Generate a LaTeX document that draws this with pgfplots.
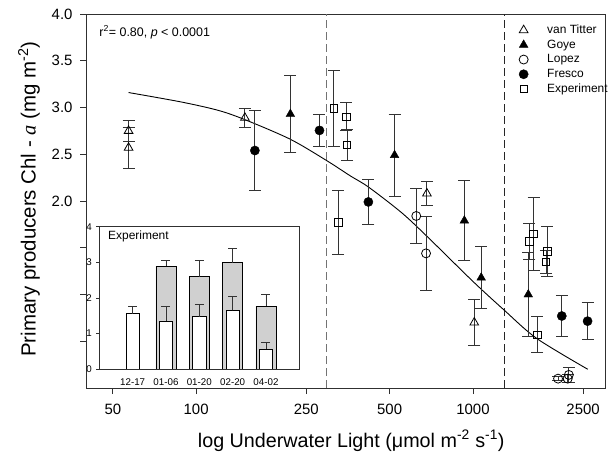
\documentclass[border=0pt]{standalone}
\usepackage{pgfplots}
\pgfplotsset{compat=1.18}
\usepackage{fontspec}
\setmainfont{Liberation Sans}
\newfontfamily\timesfont{Liberation Serif}
\definecolor{BarGray}{HTML}{D0D0D0}
\definecolor{Frame}{HTML}{303030}
\definecolor{ErrC}{HTML}{333333}

\begin{document}
\begin{tikzpicture}
% ---- main scatter ----
\begin{axis}[
  scale only axis, width=519bp, height=374bp,
  xmode=log, xmin=40, xmax=3000, ymin=0, ymax=4,
  xtick={50,100,250,500,1000,2500},
  xticklabels={50,100,250,500,1000,2500},
  ytick={0.5,1,1.5,2,2.5,3,3.5,4},
  yticklabels={,,,2.0,2.5,3.0,3.5,4.0},
  minor xtick={}, minor ytick={},
  tick pos=left, tick align=outside, major tick length=6bp,
  tick style={draw=Frame,line width=.8pt},
  axis line style={draw=Frame,line width=.9pt},
  /pgf/number format/assume math mode=true,
  tick label style={font=\fontsize{15}{18}\selectfont},
  xticklabel style={yshift=-7bp},
  yticklabel style={xshift=-4bp},
  xlabel={log Underwater Light (μmol m\textsuperscript{-2} s\textsuperscript{-1})},
  xlabel style={font=\fontsize{19.8}{22}\selectfont, at={(axis description cs:0.511,0)}, anchor=base, yshift=-59bp},
  ylabel={Primary producers Chl - {\timesfont\itshape a} (mg m\textsuperscript{-2})},
  ylabel style={font=\fontsize{20.5}{23}\selectfont, at={(axis description cs:-0.097,0.505)}, anchor=base},
  legend style={draw=none, fill=none, at={(rel axis cs:0.834,0.977)}, anchor=north west,
    font=\fontsize{12}{14}\selectfont, inner sep=0pt,
    nodes={text height=9bp, text depth=2.5bp, inner ysep=1.6bp},
    /tikz/every odd column/.append style={column sep=17bp}},
  legend cell align=left,
  error bars/error bar style={draw=ErrC,line width=.9pt},
  error bars/error mark options={draw=ErrC,line width=.9pt,mark size=6bp,rotate=90},
]
% dashed limits
\addplot[forget plot, draw=black!55, dash pattern=on 8bp off 4bp, line width=1pt] coordinates {(295,0) (295,4)};
\addplot[forget plot, draw=black!85, dash pattern=on 8bp off 4bp, line width=1pt] coordinates {(1300,0) (1300,4)};
% fitted curve
\addplot[forget plot, black, line width=.9pt, smooth] coordinates {
 (57,3.16) (88,3.06) (120,2.97) (150,2.87) (219,2.66) (297,2.43) (360,2.27)
 (419,2.15) (550,1.88) (678,1.63) (1000,1.14) (1300,0.83) (1700,0.53) (2600,0.20)};

\addplot[only marks, mark=triangle, mark size=5bp, mark options={fill=white,draw=black,line width=.8pt},
  error bars/.cd, y dir=both, y explicit] coordinates {
 (57,2.57) +- (0,0.22) (57,2.75) +- (0,0.11) (150,2.89) +- (0,0.105)
 (682,2.08) +- (0,0.125) (1011,0.70) +- (0,0.25)};
\addlegendentry{van Titter}
\addplot[only marks, mark=triangle*, mark size=5bp, mark options={fill=black,draw=black},
  error bars/.cd, y dir=both, y explicit] coordinates {
 (219,2.93) +- (0,0.41) (521,2.49) +- (0,0.44) (931,1.79) +- (0,0.43)
 (1071,1.18) +- (0,0.33) (1585,1.00) +- (0,0.45)};
\addlegendentry{Goye}
\addplot[only marks, mark=o, mark size=4.5bp, mark options={fill=white,draw=black,line width=.8pt},
  error bars/.cd, y dir=both, y explicit] coordinates {
 (624,1.84) +- (0,0.29) (677,1.44) +- (0,0.40) (2030,0.10) +- (0,0.02)
 (2200,0.10) +- (0,0.04) (2220,0.14) +- (0,0.08)};
\addlegendentry{Lopez}
\addplot[only marks, mark=*, mark size=4.6bp, mark options={fill=black,draw=black},
  error bars/.cd, y dir=both, y explicit] coordinates {
 (163,2.54) +- (0,0.43) (279,2.755) +- (0,0.17) (419,1.99) +- (0,0.24)
 (2094,0.77) +- (0,0.22) (2595,0.715) +- (0,0.20)};
\addlegendentry{Fresco}
\addplot[only marks, mark=square, mark size=3.7bp, mark options={fill=white,draw=black,line width=.8pt},
  error bars/.cd, y dir=both, y explicit] coordinates {
 (314,2.99) +- (0,0.41) (349,2.90) +- (0,0.15) (351,2.60) +- (0,0.17) (326,1.77) +- (0,0.34)
 (1600,1.57) +- (0,0.19) (1656,1.65) +- (0,0.39) (1859,1.46) +- (0,0.27)
 (1836,1.35) +- (0,0.12) (1707,0.57) +- (0,0.19)};
\addlegendentry{Experiment}

\node[anchor=west, font=\fontsize{12.5}{14}\selectfont] at (rel axis cs:0.019,0.951)
  {r\textsuperscript{2}= 0.80, \textit{p} < 0.0001};
\end{axis}

% ---- inset ----
\begin{axis}[
  at={(13.3bp,19bp)}, anchor=south west,
  scale only axis, width=200bp, height=142.3bp,
  xmin=-1, xmax=5, ymin=0, ymax=4,
  axis background/.style={fill=white},
  xtick={0,1,2,3,4}, xticklabels={12-17,01-06,01-20,02-20,04-02},
  ytick={0,1,2,3,4}, yticklabels={0,1,2,3,4},
  xtick style={draw=none},
  ytick pos=left, tick align=outside, major tick length=3bp,
  ytick style={draw=Frame,line width=.6pt},
  axis line style={draw=Frame,line width=.8pt},
  tick label style={font=\fontsize{9.8}{11}\selectfont},
  xticklabel style={yshift=-3bp},
  yticklabel style={xshift=-1bp},
  error bars/error bar style={draw=ErrC,line width=.8pt},
  error bars/error mark options={draw=ErrC,line width=.8pt,mark size=4.5bp,rotate=90},
]
\addplot[ybar, bar width=20bp, bar shift=0pt, fill=BarGray, draw=black, line width=.9pt,
  error bars/.cd, y dir=plus, y explicit] coordinates {
 (1,2.89) +- (0,0.17) (2,2.59) +- (0,0.45) (3,2.99) +- (0,0.40) (4,1.77) +- (0,0.34)};
\addplot[ybar, bar width=13.3bp, bar shift=0pt, fill=white, draw=black, line width=.9pt,
  error bars/.cd, y dir=plus, y explicit] coordinates {
 (0,1.56) +- (0,0.19) (1,1.35) +- (0,0.40) (2,1.47) +- (0,0.35) (3,1.65) +- (0,0.38) (4,0.56) +- (0,0.19)};
\node[anchor=west, font=\fontsize{12}{14}\selectfont] at (rel axis cs:0.027,0.93) {Experiment};
\end{axis}

\pgfresetboundingbox
\path[use as bounding box] (-86bp,-73bp) rectangle (525bp,388bp);
\end{tikzpicture}
\end{document}
